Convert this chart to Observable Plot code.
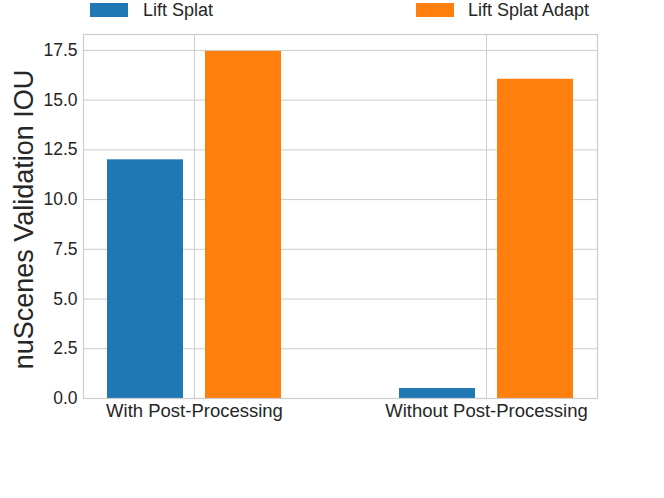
<!DOCTYPE html>
<html><head><meta charset="utf-8">
<script src="https://cdn.jsdelivr.net/npm/d3@7"></script>
<script src="https://cdn.jsdelivr.net/npm/@observablehq/plot@0.6"></script>
<style>
body{margin:0;background:#fff}
#wrap{position:relative;width:664px;height:498px;font-family:"Liberation Sans",Arial,sans-serif;color:#262626}
.sw{position:absolute;top:3px;width:38px;height:14px}
.lt{position:absolute;top:-1px;font-size:18px;line-height:22px;white-space:nowrap}
</style>
</head><body><div id="wrap"></div>
<script>
const groups = ["With Post-Processing", "Without Post-Processing"];
const series = ["Lift Splat", "Lift Splat Adapt"];
const liftSplat = [12.0, 0.5];
const liftSplatAdapt = [17.45, 16.05];
const yTicks = [0, 2.5, 5, 7.5, 10, 12.5, 15, 17.5];
const colors = ["#1f77b4", "#ff7f0e"];
const yLabel = "nuScenes Validation IOU";

const rowsA = groups.map((g, i) => ({group: g, series: series[0], value: liftSplat[i]}));
const rowsB = groups.map((g, i) => ({group: g, series: series[1], value: liftSplatAdapt[i]}));

const chart = Plot.plot({
  width: 664, height: 498,
  marginLeft: 83, marginRight: 67, marginTop: 34, marginBottom: 100,
  style: {fontFamily: "Liberation Sans, Arial, sans-serif", fontSize: "17.5px", color: "#262626", background: "white"},
  x: {domain: groups, paddingInner: 0.4027, paddingOuter: 0.0785, label: null},
  y: {domain: [0, 18.3], label: null},
  color: {domain: series, range: colors},
  marks: [
    Plot.gridY(yTicks, {stroke: "#cccccc", strokeOpacity: 1}),
    Plot.gridX(groups, {stroke: "#cccccc", strokeOpacity: 1}),
    Plot.barY(rowsA, {x: "group", y: "value", fill: "series", insetRight: 98}),
    Plot.barY(rowsB, {x: "group", y: "value", fill: "series", insetLeft: 98}),
    Plot.frame({stroke: "#cccccc", strokeWidth: 1.2}),
    Plot.axisY(yTicks, {tickSize: 0, tickPadding: 6, tickFormat: d3.format(".1f"), label: null, fill: "#262626"}),
    Plot.axisX(groups, {tickSize: 0, tickPadding: 5, label: null, fill: "#262626", fontSize: 18.5}),
    Plot.text([yLabel], {frameAnchor: "left", textAnchor: "middle", lineAnchor: "middle", rotate: -90, dx: -59, dy: 3, fontSize: 27, fill: "#262626"})
  ]
});

const wrap = document.getElementById("wrap");
wrap.appendChild(chart);
const legendPos = [[90, 143], [416, 468]];
series.forEach((s, i) => {
  const sw = document.createElement("div");
  sw.className = "sw";
  sw.style.left = legendPos[i][0] + "px";
  sw.style.background = colors[i];
  wrap.appendChild(sw);
  const t = document.createElement("div");
  t.className = "lt";
  t.style.left = legendPos[i][1] + "px";
  t.textContent = s;
  wrap.appendChild(t);
});
chart.style.position = "absolute";
chart.style.left = "0";
chart.style.top = "0";
</script>
</body></html>
